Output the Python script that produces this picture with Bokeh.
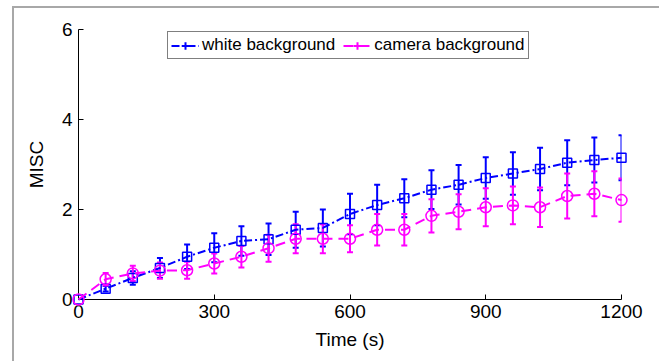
from bokeh.plotting import figure
from bokeh.models import (ColumnDataSource, Range1d, FixedTicker, Whisker, TeeHead,
                          Legend, LegendItem)
from bokeh.embed import file_html
from bokeh.resources import INLINE

# ---- data ----
time_s = [0, 60, 120, 180, 240, 300, 360, 420, 480, 540, 600,
          660, 720, 780, 840, 900, 960, 1020, 1080, 1140, 1200]
white_mean = [0.0, 0.24, 0.48, 0.70, 0.95, 1.15, 1.30, 1.34, 1.55, 1.59, 1.90,
              2.10, 2.25, 2.44, 2.55, 2.70, 2.80, 2.90, 3.04, 3.10, 3.15]
white_err = [0.0, 0.06, 0.15, 0.22, 0.27, 0.32, 0.33, 0.35, 0.40, 0.41, 0.45,
             0.45, 0.42, 0.43, 0.44, 0.46, 0.47, 0.47, 0.50, 0.50, 0.50]
camera_mean = [0.0, 0.45, 0.58, 0.64, 0.65, 0.80, 0.95, 1.14, 1.35, 1.35, 1.35,
               1.55, 1.55, 1.86, 1.95, 2.05, 2.09, 2.05, 2.30, 2.35, 2.21]
camera_err = [0.0, 0.14, 0.17, 0.18, 0.19, 0.22, 0.24, 0.30, 0.32, 0.32, 0.30,
              0.35, 0.35, 0.37, 0.39, 0.42, 0.42, 0.44, 0.50, 0.50, 0.48]
series_labels = ["white background", "camera background"]
x_ticks = [0, 300, 600, 900, 1200]
y_ticks = [0, 2, 4, 6]

BLUE = "#0000FF"
MAGENTA = "#FF00FF"
FONT = "Liberation Sans"
NAN = float("nan")

w_src = ColumnDataSource(dict(
    x=time_s, y=white_mean,
    lo=[m - e for m, e in zip(white_mean, white_err)],
    hi=[m + e for m, e in zip(white_mean, white_err)]))
c_src = ColumnDataSource(dict(
    x=time_s, y=camera_mean,
    lo=[m - e for m, e in zip(camera_mean, camera_err)],
    hi=[m + e for m, e in zip(camera_mean, camera_err)]))

# canvas starts at (14, 8) in the page because of margin + 2px border
p = figure(width=647, height=355, output_backend="svg", toolbar_location=None,
           x_range=Range1d(0, 1200), y_range=Range1d(0, 6),
           min_border_left=64, min_border_right=40, min_border_top=21,
           min_border_bottom=64, background_fill_color="white",
           border_fill_color="white", outline_line_color=None)
p.margin = (6, 0, 0, 12)
p.styles = {"border-left": "2px solid #a8a8a8", "border-top": "2px solid #a8a8a8"}
p.xgrid.visible = False
p.ygrid.visible = False

for ax in (p.xaxis[0], p.yaxis[0]):
    ax.major_tick_in = 5
    ax.major_tick_out = 0
    ax.minor_tick_line_color = None
    ax.axis_line_color = "black"
    ax.axis_line_width = 1
    ax.major_tick_line_color = "black"
    ax.major_label_text_font = FONT
    ax.major_label_text_font_size = "19px"
    ax.major_label_text_color = "black"
    ax.axis_label_text_font = FONT
    ax.axis_label_text_font_size = "19px"
    ax.axis_label_text_font_style = "normal"
    ax.axis_label_text_color = "black"

p.xaxis[0].ticker = FixedTicker(ticks=x_ticks)
p.yaxis[0].ticker = FixedTicker(ticks=y_ticks)
p.xaxis[0].axis_label = "Time (s)"
p.yaxis[0].axis_label = "MISC"
p.xaxis[0].major_label_standoff = 5
p.yaxis[0].major_label_standoff = 6
p.xaxis[0].axis_label_standoff = 8
p.yaxis[0].axis_label_standoff = 12

# error bars
for src, col in ((w_src, BLUE), (c_src, MAGENTA)):
    wk = Whisker(source=src, base="x", lower="lo", upper="hi",
                 line_color=col, line_width=2,
                 lower_head=TeeHead(size=6, line_color=col, line_width=2),
                 upper_head=TeeHead(size=6, line_color=col, line_width=2))
    p.add_layout(wk)

w_line = p.line("x", "y", source=w_src, line_color=BLUE, line_width=2,
                line_dash="8 3 2 3", level="overlay")
w_mark = p.scatter("x", "y", source=w_src, marker="square", size=9,
                   line_color=BLUE, line_width=1.5, fill_color=None, level="overlay")
c_line = p.line("x", "y", source=c_src, line_color=MAGENTA, line_width=2,
                line_dash="10 6", level="overlay")
c_mark = p.scatter("x", "y", source=c_src, marker="circle", size=11,
                   line_color=MAGENTA, line_width=1.5, fill_color=None, level="overlay")

# legend-only glyphs (not drawn in the plot area: NaN position)
leg_src = ColumnDataSource(dict(x=[NAN], y=[NAN]))
lw_bar = p.scatter("x", "y", source=leg_src, marker="cross", size=13,
                   line_color=BLUE, line_width=2)
lw_pt = p.scatter("x", "y", source=leg_src, marker="dot", size=13,
                  line_color=BLUE, fill_color=BLUE, line_width=3)
lc_bar = p.scatter("x", "y", source=leg_src, marker="cross", size=13,
                   line_color=MAGENTA, line_width=2)
lc_pt = p.scatter("x", "y", source=leg_src, marker="dot", size=13,
                  line_color=MAGENTA, fill_color=MAGENTA, line_width=3)

legend = Legend(items=[
    LegendItem(label=series_labels[0], renderers=[w_line, lw_bar, lw_pt]),
    LegendItem(label=series_labels[1], renderers=[c_line, lc_bar, lc_pt]),
], location=(89, 240), orientation="horizontal",
    label_text_font=FONT, label_text_font_size="17px", label_text_color="black",
    border_line_color="black", border_line_width=1, background_fill_alpha=1,
    padding=3, margin=0, spacing=8, label_standoff=3,
    glyph_width=28, glyph_height=19, label_height=19)
p.add_layout(legend, "center")

open("out.html", "w").write(file_html(p, INLINE))
